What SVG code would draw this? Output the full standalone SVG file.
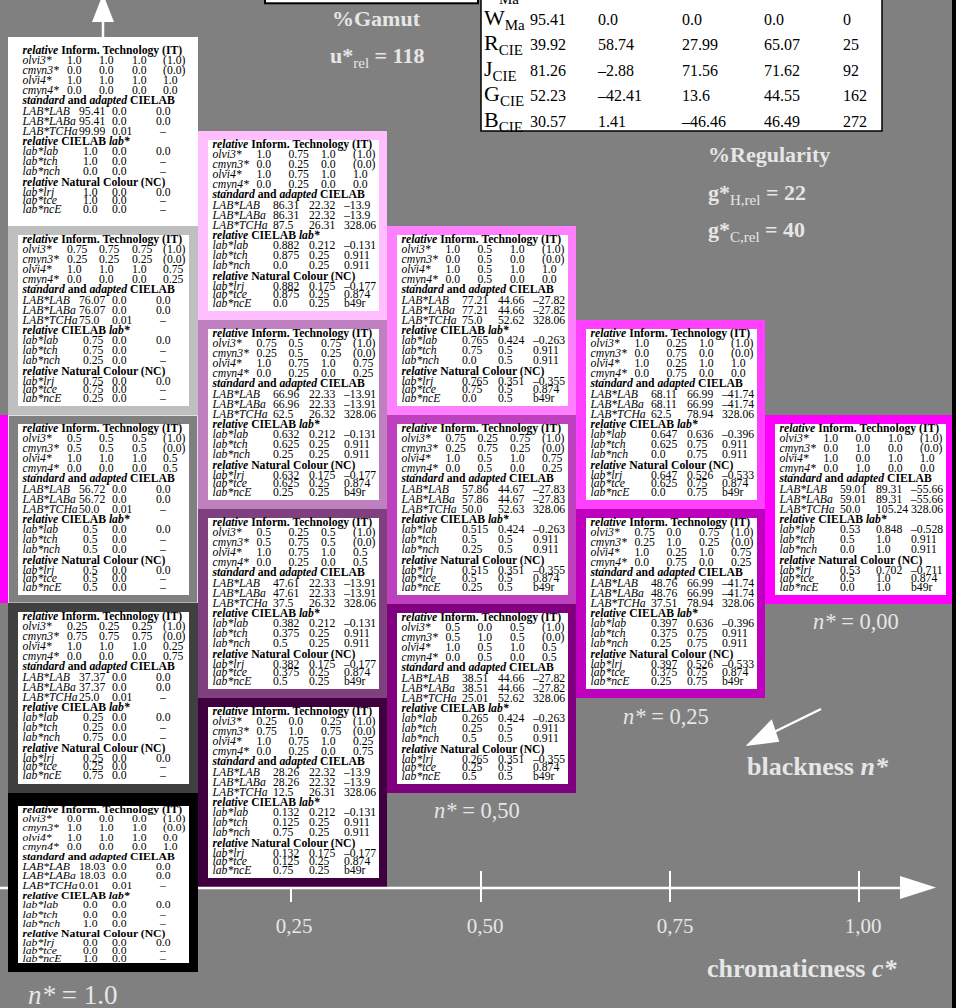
<svg xmlns="http://www.w3.org/2000/svg" width="956" height="1008" viewBox="0 0 956 1008">
<style>
text{font-family:"Liberation Serif","Times New Roman",serif}
.bx text{font-size:11.7px;fill:#000}
.b{font-weight:bold}
.i{font-style:italic}
.n{font-weight:normal}
.in{fill:#fff}
.lbl{fill:#e6e6e6}
.ax{stroke:#fff;stroke-width:2.5;fill:none}
.tk{stroke:#fff;stroke-width:2;fill:none}
.tb{font-size:16px;fill:#000}
</style>
<rect width="956" height="1008" fill="#808080"/>
<rect x="952" y="0" width="4" height="1008" fill="#000"/>
<rect x="0" y="415" width="8" height="188" fill="#ff00ff"/>

<g id="legend-top">
<rect x="265" y="-10" width="213" height="13.3" fill="#fff" stroke="#000" stroke-width="2"/>
<rect x="481" y="-10" width="401" height="141" fill="#fff" stroke="#000" stroke-width="1.5"/>
<text x="499" y="3.5" font-size="15">Ma</text>
<text x="484" y="24.5" font-size="22">W<tspan font-size="15" dy="5">Ma</tspan></text>
<text x="484" y="50" font-size="22">R<tspan font-size="15" dy="5">CIE</tspan></text>
<text x="484" y="75.5" font-size="22">J<tspan font-size="15" dy="5">CIE</tspan></text>
<text x="484" y="101" font-size="22">G<tspan font-size="15" dy="5">CIE</tspan></text>
<text x="484" y="126.5" font-size="22">B<tspan font-size="15" dy="5">CIE</tspan></text>
<text class="tb" y="24.5"><tspan x="530">95.41</tspan><tspan x="598">0.0</tspan><tspan x="682">0.0</tspan><tspan x="764">0.0</tspan><tspan x="843">0</tspan></text>
<text class="tb" y="50"><tspan x="530">39.92</tspan><tspan x="598">58.74</tspan><tspan x="682">27.99</tspan><tspan x="764">65.07</tspan><tspan x="843">25</tspan></text>
<text class="tb" y="75.5"><tspan x="530">81.26</tspan><tspan x="598">–2.88</tspan><tspan x="682">71.56</tspan><tspan x="764">71.62</tspan><tspan x="843">92</tspan></text>
<text class="tb" y="101"><tspan x="530">52.23</tspan><tspan x="598">–42.41</tspan><tspan x="682">13.6</tspan><tspan x="764">44.55</tspan><tspan x="843">162</tspan></text>
<text class="tb" y="126.5"><tspan x="530">30.57</tspan><tspan x="598">1.41</tspan><tspan x="682">–46.46</tspan><tspan x="764">46.49</tspan><tspan x="843">272</tspan></text>
</g>

<g id="gamut">
<text class="lbl b" x="332" y="26" font-size="22">%Gamut</text>
<text class="lbl b" x="330" y="63" font-size="22">u*<tspan class="n" font-size="15" dy="5">rel</tspan><tspan dy="-5"> = 118</tspan></text>
</g>
<g id="regularity">
<text class="lbl b" x="708" y="162" font-size="22">%Regularity</text>
<text class="lbl b" x="708" y="200" font-size="22">g*<tspan class="n" font-size="15" dy="5">H,rel</tspan><tspan dy="-5"> = 22</tspan></text>
<text class="lbl b" x="708" y="237" font-size="22">g*<tspan class="n" font-size="15" dy="5">C,rel</tspan><tspan dy="-5"> = 40</tspan></text>
</g>

<!-- column c*=0 -->
<g id="c0-n0" class="bx" transform="translate(8,37)">
<rect width="190" height="189" fill="#ffffff"/>
<rect class="in" x="10" y="9" width="171" height="171"/>
<text class="b" x="14.5" y="16.6"><tspan class="i">relative</tspan> Inform. Technology (IT)</text>
<text y="26.5"><tspan class="i" x="14.5">olvi3*</tspan><tspan x="59">1.0</tspan><tspan x="91">1.0</tspan><tspan x="124">1.0</tspan><tspan x="155">(1.0)</tspan></text>
<text y="36.5"><tspan class="i" x="14.5">cmyn3*</tspan><tspan x="59">0.0</tspan><tspan x="91">0.0</tspan><tspan x="124">0.0</tspan><tspan x="155">(0.0)</tspan></text>
<text y="46.5"><tspan class="i" x="14.5">olvi4*</tspan><tspan x="59">1.0</tspan><tspan x="91">1.0</tspan><tspan x="124">1.0</tspan><tspan x="155">1.0</tspan></text>
<text y="56.5"><tspan class="i" x="14.5">cmyn4*</tspan><tspan x="59">0.0</tspan><tspan x="91">0.0</tspan><tspan x="124">0.0</tspan><tspan x="155">0.0</tspan></text>
<text class="b" x="14.5" y="67"><tspan class="i">standard</tspan> and <tspan class="i">adapted</tspan> CIELAB</text>
<text y="77.5"><tspan class="i" x="14.5">LAB*LAB</tspan><tspan x="71">95.41</tspan><tspan x="104">0.0</tspan><tspan x="148">0.0</tspan></text>
<text y="87.5"><tspan class="i" x="14.5">LAB*LABa</tspan><tspan x="71">95.41</tspan><tspan x="104">0.0</tspan><tspan x="148">0.0</tspan></text>
<text y="97.5"><tspan class="i" x="14.5">LAB*TCHa</tspan><tspan x="71">99.99</tspan><tspan x="104">0.01</tspan><tspan x="152">–</tspan></text>
<text class="b" x="14.5" y="108"><tspan class="i">relative</tspan> CIELAB <tspan class="i">lab*</tspan></text>
<text y="118.3"><tspan class="i" x="14.5">lab*lab</tspan><tspan x="75">1.0</tspan><tspan x="104">0.0</tspan><tspan x="148">0.0</tspan></text>
<text y="128.3"><tspan class="i" x="14.5">lab*tch</tspan><tspan x="75">1.0</tspan><tspan x="104">0.0</tspan><tspan x="152">–</tspan></text>
<text y="138.3"><tspan class="i" x="14.5">lab*nch</tspan><tspan x="75">0.0</tspan><tspan x="104">0.0</tspan><tspan x="152">–</tspan></text>
<text class="b" x="14.5" y="148.7"><tspan class="i">relative</tspan> Natural Colour (NC)</text>
<text y="158.5"><tspan class="i" x="14.5">lab*lrj</tspan><tspan x="75">1.0</tspan><tspan x="104">0.0</tspan><tspan x="148">0.0</tspan></text>
<text y="167.3"><tspan class="i" x="14.5">lab*tce</tspan><tspan x="75">1.0</tspan><tspan x="104">0.0</tspan><tspan x="152">–</tspan></text>
<text y="175.7"><tspan class="i" x="14.5">lab*ncE</tspan><tspan x="75">0.0</tspan><tspan x="104">0.0</tspan><tspan x="152">–</tspan></text>
</g>

<g id="c0-n25" class="bx" transform="translate(8,226)">
<rect width="190" height="189" fill="#bfbfbf"/>
<rect class="in" x="10" y="9" width="171" height="171"/>
<text class="b" x="14.5" y="16.6"><tspan class="i">relative</tspan> Inform. Technology (IT)</text>
<text y="26.5"><tspan class="i" x="14.5">olvi3*</tspan><tspan x="59">0.75</tspan><tspan x="91">0.75</tspan><tspan x="124">0.75</tspan><tspan x="155">(1.0)</tspan></text>
<text y="36.5"><tspan class="i" x="14.5">cmyn3*</tspan><tspan x="59">0.25</tspan><tspan x="91">0.25</tspan><tspan x="124">0.25</tspan><tspan x="155">(0.0)</tspan></text>
<text y="46.5"><tspan class="i" x="14.5">olvi4*</tspan><tspan x="59">1.0</tspan><tspan x="91">1.0</tspan><tspan x="124">1.0</tspan><tspan x="155">0.75</tspan></text>
<text y="56.5"><tspan class="i" x="14.5">cmyn4*</tspan><tspan x="59">0.0</tspan><tspan x="91">0.0</tspan><tspan x="124">0.0</tspan><tspan x="155">0.25</tspan></text>
<text class="b" x="14.5" y="67"><tspan class="i">standard</tspan> and <tspan class="i">adapted</tspan> CIELAB</text>
<text y="77.5"><tspan class="i" x="14.5">LAB*LAB</tspan><tspan x="71">76.07</tspan><tspan x="104">0.0</tspan><tspan x="148">0.0</tspan></text>
<text y="87.5"><tspan class="i" x="14.5">LAB*LABa</tspan><tspan x="71">76.07</tspan><tspan x="104">0.0</tspan><tspan x="148">0.0</tspan></text>
<text y="97.5"><tspan class="i" x="14.5">LAB*TCHa</tspan><tspan x="71">75.0</tspan><tspan x="104">0.01</tspan><tspan x="152">–</tspan></text>
<text class="b" x="14.5" y="108"><tspan class="i">relative</tspan> CIELAB <tspan class="i">lab*</tspan></text>
<text y="118.3"><tspan class="i" x="14.5">lab*lab</tspan><tspan x="75">0.75</tspan><tspan x="104">0.0</tspan><tspan x="148">0.0</tspan></text>
<text y="128.3"><tspan class="i" x="14.5">lab*tch</tspan><tspan x="75">0.75</tspan><tspan x="104">0.0</tspan><tspan x="152">–</tspan></text>
<text y="138.3"><tspan class="i" x="14.5">lab*nch</tspan><tspan x="75">0.25</tspan><tspan x="104">0.0</tspan><tspan x="152">–</tspan></text>
<text class="b" x="14.5" y="148.7"><tspan class="i">relative</tspan> Natural Colour (NC)</text>
<text y="158.5"><tspan class="i" x="14.5">lab*lrj</tspan><tspan x="75">0.75</tspan><tspan x="104">0.0</tspan><tspan x="148">0.0</tspan></text>
<text y="167.3"><tspan class="i" x="14.5">lab*tce</tspan><tspan x="75">0.75</tspan><tspan x="104">0.0</tspan><tspan x="152">–</tspan></text>
<text y="175.7"><tspan class="i" x="14.5">lab*ncE</tspan><tspan x="75">0.25</tspan><tspan x="104">0.0</tspan><tspan x="152">–</tspan></text>
</g>

<g id="c0-n50" class="bx" transform="translate(8,415)">
<rect x="0.5" y="0.5" width="189" height="187.5" fill="#808080" stroke="#e0e0e0" stroke-width="1"/>
<rect class="in" x="10" y="9" width="171" height="171"/>
<text class="b" x="14.5" y="16.6"><tspan class="i">relative</tspan> Inform. Technology (IT)</text>
<text y="26.5"><tspan class="i" x="14.5">olvi3*</tspan><tspan x="59">0.5</tspan><tspan x="91">0.5</tspan><tspan x="124">0.5</tspan><tspan x="155">(1.0)</tspan></text>
<text y="36.5"><tspan class="i" x="14.5">cmyn3*</tspan><tspan x="59">0.5</tspan><tspan x="91">0.5</tspan><tspan x="124">0.5</tspan><tspan x="155">(0.0)</tspan></text>
<text y="46.5"><tspan class="i" x="14.5">olvi4*</tspan><tspan x="59">1.0</tspan><tspan x="91">1.0</tspan><tspan x="124">1.0</tspan><tspan x="155">0.5</tspan></text>
<text y="56.5"><tspan class="i" x="14.5">cmyn4*</tspan><tspan x="59">0.0</tspan><tspan x="91">0.0</tspan><tspan x="124">0.0</tspan><tspan x="155">0.5</tspan></text>
<text class="b" x="14.5" y="67"><tspan class="i">standard</tspan> and <tspan class="i">adapted</tspan> CIELAB</text>
<text y="77.5"><tspan class="i" x="14.5">LAB*LAB</tspan><tspan x="71">56.72</tspan><tspan x="104">0.0</tspan><tspan x="148">0.0</tspan></text>
<text y="87.5"><tspan class="i" x="14.5">LAB*LABa</tspan><tspan x="71">56.72</tspan><tspan x="104">0.0</tspan><tspan x="148">0.0</tspan></text>
<text y="97.5"><tspan class="i" x="14.5">LAB*TCHa</tspan><tspan x="71">50.0</tspan><tspan x="104">0.01</tspan><tspan x="152">–</tspan></text>
<text class="b" x="14.5" y="108"><tspan class="i">relative</tspan> CIELAB <tspan class="i">lab*</tspan></text>
<text y="118.3"><tspan class="i" x="14.5">lab*lab</tspan><tspan x="75">0.5</tspan><tspan x="104">0.0</tspan><tspan x="148">0.0</tspan></text>
<text y="128.3"><tspan class="i" x="14.5">lab*tch</tspan><tspan x="75">0.5</tspan><tspan x="104">0.0</tspan><tspan x="152">–</tspan></text>
<text y="138.3"><tspan class="i" x="14.5">lab*nch</tspan><tspan x="75">0.5</tspan><tspan x="104">0.0</tspan><tspan x="152">–</tspan></text>
<text class="b" x="14.5" y="148.7"><tspan class="i">relative</tspan> Natural Colour (NC)</text>
<text y="158.5"><tspan class="i" x="14.5">lab*lrj</tspan><tspan x="75">0.5</tspan><tspan x="104">0.0</tspan><tspan x="148">0.0</tspan></text>
<text y="167.3"><tspan class="i" x="14.5">lab*tce</tspan><tspan x="75">0.5</tspan><tspan x="104">0.0</tspan><tspan x="152">–</tspan></text>
<text y="175.7"><tspan class="i" x="14.5">lab*ncE</tspan><tspan x="75">0.5</tspan><tspan x="104">0.0</tspan><tspan x="152">–</tspan></text>
</g>

<g id="c0-n75" class="bx" transform="translate(8,603)">
<rect width="190" height="190" fill="#404040"/>
<rect class="in" x="10" y="9" width="171" height="172"/>
<text class="b" x="14.5" y="16.6"><tspan class="i">relative</tspan> Inform. Technology (IT)</text>
<text y="26.5"><tspan class="i" x="14.5">olvi3*</tspan><tspan x="59">0.25</tspan><tspan x="91">0.25</tspan><tspan x="124">0.25</tspan><tspan x="155">(1.0)</tspan></text>
<text y="36.5"><tspan class="i" x="14.5">cmyn3*</tspan><tspan x="59">0.75</tspan><tspan x="91">0.75</tspan><tspan x="124">0.75</tspan><tspan x="155">(0.0)</tspan></text>
<text y="46.5"><tspan class="i" x="14.5">olvi4*</tspan><tspan x="59">1.0</tspan><tspan x="91">1.0</tspan><tspan x="124">1.0</tspan><tspan x="155">0.25</tspan></text>
<text y="56.5"><tspan class="i" x="14.5">cmyn4*</tspan><tspan x="59">0.0</tspan><tspan x="91">0.0</tspan><tspan x="124">0.0</tspan><tspan x="155">0.75</tspan></text>
<text class="b" x="14.5" y="67"><tspan class="i">standard</tspan> and <tspan class="i">adapted</tspan> CIELAB</text>
<text y="77.5"><tspan class="i" x="14.5">LAB*LAB</tspan><tspan x="71">37.37</tspan><tspan x="104">0.0</tspan><tspan x="148">0.0</tspan></text>
<text y="87.5"><tspan class="i" x="14.5">LAB*LABa</tspan><tspan x="71">37.37</tspan><tspan x="104">0.0</tspan><tspan x="148">0.0</tspan></text>
<text y="97.5"><tspan class="i" x="14.5">LAB*TCHa</tspan><tspan x="71">25.0</tspan><tspan x="104">0.01</tspan><tspan x="152">–</tspan></text>
<text class="b" x="14.5" y="108"><tspan class="i">relative</tspan> CIELAB <tspan class="i">lab*</tspan></text>
<text y="118.3"><tspan class="i" x="14.5">lab*lab</tspan><tspan x="75">0.25</tspan><tspan x="104">0.0</tspan><tspan x="148">0.0</tspan></text>
<text y="128.3"><tspan class="i" x="14.5">lab*tch</tspan><tspan x="75">0.25</tspan><tspan x="104">0.0</tspan><tspan x="152">–</tspan></text>
<text y="138.3"><tspan class="i" x="14.5">lab*nch</tspan><tspan x="75">0.75</tspan><tspan x="104">0.0</tspan><tspan x="152">–</tspan></text>
<text class="b" x="14.5" y="148.7"><tspan class="i">relative</tspan> Natural Colour (NC)</text>
<text y="158.5"><tspan class="i" x="14.5">lab*lrj</tspan><tspan x="75">0.25</tspan><tspan x="104">0.0</tspan><tspan x="148">0.0</tspan></text>
<text y="167.3"><tspan class="i" x="14.5">lab*tce</tspan><tspan x="75">0.25</tspan><tspan x="104">0.0</tspan><tspan x="152">–</tspan></text>
<text y="175.7"><tspan class="i" x="14.5">lab*ncE</tspan><tspan x="75">0.75</tspan><tspan x="104">0.0</tspan><tspan x="152">–</tspan></text>
</g>

<g id="c0-n100" class="bx" transform="translate(8,793)">
<rect width="190" height="179" fill="#000000"/>
<rect class="in" x="10" y="13" width="171" height="157"/>
<g transform="translate(0,4) scale(1,0.94)">
<text class="b" x="14.5" y="16.6"><tspan class="i">relative</tspan> Inform. Technology (IT)</text>
<text y="26.5"><tspan class="i" x="14.5">olvi3*</tspan><tspan x="59">0.0</tspan><tspan x="91">0.0</tspan><tspan x="124">0.0</tspan><tspan x="155">(1.0)</tspan></text>
<text y="36.5"><tspan class="i" x="14.5">cmyn3*</tspan><tspan x="59">1.0</tspan><tspan x="91">1.0</tspan><tspan x="124">1.0</tspan><tspan x="155">(0.0)</tspan></text>
<text y="46.5"><tspan class="i" x="14.5">olvi4*</tspan><tspan x="59">1.0</tspan><tspan x="91">1.0</tspan><tspan x="124">1.0</tspan><tspan x="155">0.0</tspan></text>
<text y="56.5"><tspan class="i" x="14.5">cmyn4*</tspan><tspan x="59">0.0</tspan><tspan x="91">0.0</tspan><tspan x="124">0.0</tspan><tspan x="155">1.0</tspan></text>
<text class="b" x="14.5" y="67"><tspan class="i">standard</tspan> and <tspan class="i">adapted</tspan> CIELAB</text>
<text y="77.5"><tspan class="i" x="14.5">LAB*LAB</tspan><tspan x="71">18.03</tspan><tspan x="104">0.0</tspan><tspan x="148">0.0</tspan></text>
<text y="87.5"><tspan class="i" x="14.5">LAB*LABa</tspan><tspan x="71">18.03</tspan><tspan x="104">0.0</tspan><tspan x="148">0.0</tspan></text>
<text y="97.5"><tspan class="i" x="14.5">LAB*TCHa</tspan><tspan x="71">0.01</tspan><tspan x="104">0.01</tspan><tspan x="152">–</tspan></text>
<text class="b" x="14.5" y="108"><tspan class="i">relative</tspan> CIELAB <tspan class="i">lab*</tspan></text>
<text y="118.3"><tspan class="i" x="14.5">lab*lab</tspan><tspan x="75">0.0</tspan><tspan x="104">0.0</tspan><tspan x="148">0.0</tspan></text>
<text y="128.3"><tspan class="i" x="14.5">lab*tch</tspan><tspan x="75">0.0</tspan><tspan x="104">0.0</tspan><tspan x="152">–</tspan></text>
<text y="138.3"><tspan class="i" x="14.5">lab*nch</tspan><tspan x="75">1.0</tspan><tspan x="104">0.0</tspan><tspan x="152">–</tspan></text>
<text class="b" x="14.5" y="148.7"><tspan class="i">relative</tspan> Natural Colour (NC)</text>
<text y="158.5"><tspan class="i" x="14.5">lab*lrj</tspan><tspan x="75">0.0</tspan><tspan x="104">0.0</tspan><tspan x="148">0.0</tspan></text>
<text y="167.3"><tspan class="i" x="14.5">lab*tce</tspan><tspan x="75">0.0</tspan><tspan x="104">0.0</tspan><tspan x="152">–</tspan></text>
<text y="175.7"><tspan class="i" x="14.5">lab*ncE</tspan><tspan x="75">1.0</tspan><tspan x="104">0.0</tspan><tspan x="152">–</tspan></text>
</g>
</g>

<!-- column c*=0.25 -->
<g id="c25-n0" class="bx" transform="translate(198,131)">
<rect width="189" height="189" fill="#ffbfff"/>
<rect class="in" x="10" y="9" width="171" height="171"/>
<text class="b" x="14.5" y="16.6"><tspan class="i">relative</tspan> Inform. Technology (IT)</text>
<text y="26.5"><tspan class="i" x="14.5">olvi3*</tspan><tspan x="58.5">1.0</tspan><tspan x="90.5">0.75</tspan><tspan x="123">1.0</tspan><tspan x="155">(1.0)</tspan></text>
<text y="36.5"><tspan class="i" x="14.5">cmyn3*</tspan><tspan x="58.5">0.0</tspan><tspan x="90.5">0.25</tspan><tspan x="123">0.0</tspan><tspan x="155">(0.0)</tspan></text>
<text y="46.5"><tspan class="i" x="14.5">olvi4*</tspan><tspan x="58.5">1.0</tspan><tspan x="90.5">0.75</tspan><tspan x="123">1.0</tspan><tspan x="155">1.0</tspan></text>
<text y="56.5"><tspan class="i" x="14.5">cmyn4*</tspan><tspan x="58.5">0.0</tspan><tspan x="90.5">0.25</tspan><tspan x="123">0.0</tspan><tspan x="155">0.0</tspan></text>
<text class="b" x="14.5" y="67"><tspan class="i">standard</tspan> and <tspan class="i">adapted</tspan> CIELAB</text>
<text y="77.5"><tspan class="i" x="14.5">LAB*LAB</tspan><tspan x="75">86.31</tspan><tspan x="111">22.32</tspan><tspan x="146">–13.9</tspan></text>
<text y="87.5"><tspan class="i" x="14.5">LAB*LABa</tspan><tspan x="75">86.31</tspan><tspan x="111">22.32</tspan><tspan x="146">–13.9</tspan></text>
<text y="97.5"><tspan class="i" x="14.5">LAB*TCHa</tspan><tspan x="75">87.5</tspan><tspan x="111">26.31</tspan><tspan x="146">328.06</tspan></text>
<text class="b" x="14.5" y="108"><tspan class="i">relative</tspan> CIELAB <tspan class="i">lab*</tspan></text>
<text y="118.3"><tspan class="i" x="14.5">lab*lab</tspan><tspan x="75">0.882</tspan><tspan x="111">0.212</tspan><tspan x="146">–0.131</tspan></text>
<text y="128.3"><tspan class="i" x="14.5">lab*tch</tspan><tspan x="75">0.875</tspan><tspan x="111">0.25</tspan><tspan x="146">0.911</tspan></text>
<text y="138.3"><tspan class="i" x="14.5">lab*nch</tspan><tspan x="75">0.0</tspan><tspan x="111">0.25</tspan><tspan x="146">0.911</tspan></text>
<text class="b" x="14.5" y="148.7"><tspan class="i">relative</tspan> Natural Colour (NC)</text>
<text y="158.5"><tspan class="i" x="14.5">lab*lrj</tspan><tspan x="75">0.882</tspan><tspan x="111">0.175</tspan><tspan x="146">–0.177</tspan></text>
<text y="167.3"><tspan class="i" x="14.5">lab*tce</tspan><tspan x="75">0.875</tspan><tspan x="111">0.25</tspan><tspan x="146">0.874</tspan></text>
<text y="175.7"><tspan class="i" x="14.5">lab*ncE</tspan><tspan x="75">0.0</tspan><tspan x="111">0.25</tspan><tspan x="146">b49r</tspan></text>
</g>

<g id="c25-n25" class="bx" transform="translate(198,320)">
<rect width="189" height="189" fill="#bf80bf"/>
<rect class="in" x="10" y="9" width="171" height="171"/>
<text class="b" x="14.5" y="16.6"><tspan class="i">relative</tspan> Inform. Technology (IT)</text>
<text y="26.5"><tspan class="i" x="14.5">olvi3*</tspan><tspan x="58.5">0.75</tspan><tspan x="90.5">0.5</tspan><tspan x="123">0.75</tspan><tspan x="155">(1.0)</tspan></text>
<text y="36.5"><tspan class="i" x="14.5">cmyn3*</tspan><tspan x="58.5">0.25</tspan><tspan x="90.5">0.5</tspan><tspan x="123">0.25</tspan><tspan x="155">(0.0)</tspan></text>
<text y="46.5"><tspan class="i" x="14.5">olvi4*</tspan><tspan x="58.5">1.0</tspan><tspan x="90.5">0.75</tspan><tspan x="123">1.0</tspan><tspan x="155">0.75</tspan></text>
<text y="56.5"><tspan class="i" x="14.5">cmyn4*</tspan><tspan x="58.5">0.0</tspan><tspan x="90.5">0.25</tspan><tspan x="123">0.0</tspan><tspan x="155">0.25</tspan></text>
<text class="b" x="14.5" y="67"><tspan class="i">standard</tspan> and <tspan class="i">adapted</tspan> CIELAB</text>
<text y="77.5"><tspan class="i" x="14.5">LAB*LAB</tspan><tspan x="75">66.96</tspan><tspan x="111">22.33</tspan><tspan x="146">–13.91</tspan></text>
<text y="87.5"><tspan class="i" x="14.5">LAB*LABa</tspan><tspan x="75">66.96</tspan><tspan x="111">22.33</tspan><tspan x="146">–13.91</tspan></text>
<text y="97.5"><tspan class="i" x="14.5">LAB*TCHa</tspan><tspan x="75">62.5</tspan><tspan x="111">26.32</tspan><tspan x="146">328.06</tspan></text>
<text class="b" x="14.5" y="108"><tspan class="i">relative</tspan> CIELAB <tspan class="i">lab*</tspan></text>
<text y="118.3"><tspan class="i" x="14.5">lab*lab</tspan><tspan x="75">0.632</tspan><tspan x="111">0.212</tspan><tspan x="146">–0.131</tspan></text>
<text y="128.3"><tspan class="i" x="14.5">lab*tch</tspan><tspan x="75">0.625</tspan><tspan x="111">0.25</tspan><tspan x="146">0.911</tspan></text>
<text y="138.3"><tspan class="i" x="14.5">lab*nch</tspan><tspan x="75">0.25</tspan><tspan x="111">0.25</tspan><tspan x="146">0.911</tspan></text>
<text class="b" x="14.5" y="148.7"><tspan class="i">relative</tspan> Natural Colour (NC)</text>
<text y="158.5"><tspan class="i" x="14.5">lab*lrj</tspan><tspan x="75">0.632</tspan><tspan x="111">0.175</tspan><tspan x="146">–0.177</tspan></text>
<text y="167.3"><tspan class="i" x="14.5">lab*tce</tspan><tspan x="75">0.625</tspan><tspan x="111">0.25</tspan><tspan x="146">0.874</tspan></text>
<text y="175.7"><tspan class="i" x="14.5">lab*ncE</tspan><tspan x="75">0.25</tspan><tspan x="111">0.25</tspan><tspan x="146">b49r</tspan></text>
</g>

<g id="c25-n50" class="bx" transform="translate(198,509)">
<rect width="189" height="189" fill="#804080"/>
<rect class="in" x="10" y="9" width="171" height="171"/>
<text class="b" x="14.5" y="16.6"><tspan class="i">relative</tspan> Inform. Technology (IT)</text>
<text y="26.5"><tspan class="i" x="14.5">olvi3*</tspan><tspan x="58.5">0.5</tspan><tspan x="90.5">0.25</tspan><tspan x="123">0.5</tspan><tspan x="155">(1.0)</tspan></text>
<text y="36.5"><tspan class="i" x="14.5">cmyn3*</tspan><tspan x="58.5">0.5</tspan><tspan x="90.5">0.75</tspan><tspan x="123">0.5</tspan><tspan x="155">(0.0)</tspan></text>
<text y="46.5"><tspan class="i" x="14.5">olvi4*</tspan><tspan x="58.5">1.0</tspan><tspan x="90.5">0.75</tspan><tspan x="123">1.0</tspan><tspan x="155">0.5</tspan></text>
<text y="56.5"><tspan class="i" x="14.5">cmyn4*</tspan><tspan x="58.5">0.0</tspan><tspan x="90.5">0.25</tspan><tspan x="123">0.0</tspan><tspan x="155">0.5</tspan></text>
<text class="b" x="14.5" y="67"><tspan class="i">standard</tspan> and <tspan class="i">adapted</tspan> CIELAB</text>
<text y="77.5"><tspan class="i" x="14.5">LAB*LAB</tspan><tspan x="75">47.61</tspan><tspan x="111">22.33</tspan><tspan x="146">–13.91</tspan></text>
<text y="87.5"><tspan class="i" x="14.5">LAB*LABa</tspan><tspan x="75">47.61</tspan><tspan x="111">22.33</tspan><tspan x="146">–13.91</tspan></text>
<text y="97.5"><tspan class="i" x="14.5">LAB*TCHa</tspan><tspan x="75">37.5</tspan><tspan x="111">26.32</tspan><tspan x="146">328.06</tspan></text>
<text class="b" x="14.5" y="108"><tspan class="i">relative</tspan> CIELAB <tspan class="i">lab*</tspan></text>
<text y="118.3"><tspan class="i" x="14.5">lab*lab</tspan><tspan x="75">0.382</tspan><tspan x="111">0.212</tspan><tspan x="146">–0.131</tspan></text>
<text y="128.3"><tspan class="i" x="14.5">lab*tch</tspan><tspan x="75">0.375</tspan><tspan x="111">0.25</tspan><tspan x="146">0.911</tspan></text>
<text y="138.3"><tspan class="i" x="14.5">lab*nch</tspan><tspan x="75">0.5</tspan><tspan x="111">0.25</tspan><tspan x="146">0.911</tspan></text>
<text class="b" x="14.5" y="148.7"><tspan class="i">relative</tspan> Natural Colour (NC)</text>
<text y="158.5"><tspan class="i" x="14.5">lab*lrj</tspan><tspan x="75">0.382</tspan><tspan x="111">0.175</tspan><tspan x="146">–0.177</tspan></text>
<text y="167.3"><tspan class="i" x="14.5">lab*tce</tspan><tspan x="75">0.375</tspan><tspan x="111">0.25</tspan><tspan x="146">0.874</tspan></text>
<text y="175.7"><tspan class="i" x="14.5">lab*ncE</tspan><tspan x="75">0.5</tspan><tspan x="111">0.25</tspan><tspan x="146">b49r</tspan></text>
</g>

<g id="c25-n75" class="bx" transform="translate(198,698)">
<rect width="189" height="189" fill="#400040"/>
<rect class="in" x="10" y="9" width="171" height="171"/>
<text class="b" x="14.5" y="16.6"><tspan class="i">relative</tspan> Inform. Technology (IT)</text>
<text y="26.5"><tspan class="i" x="14.5">olvi3*</tspan><tspan x="58.5">0.25</tspan><tspan x="90.5">0.0</tspan><tspan x="123">0.25</tspan><tspan x="155">(1.0)</tspan></text>
<text y="36.5"><tspan class="i" x="14.5">cmyn3*</tspan><tspan x="58.5">0.75</tspan><tspan x="90.5">1.0</tspan><tspan x="123">0.75</tspan><tspan x="155">(0.0)</tspan></text>
<text y="46.5"><tspan class="i" x="14.5">olvi4*</tspan><tspan x="58.5">1.0</tspan><tspan x="90.5">0.75</tspan><tspan x="123">1.0</tspan><tspan x="155">0.25</tspan></text>
<text y="56.5"><tspan class="i" x="14.5">cmyn4*</tspan><tspan x="58.5">0.0</tspan><tspan x="90.5">0.25</tspan><tspan x="123">0.0</tspan><tspan x="155">0.75</tspan></text>
<text class="b" x="14.5" y="67"><tspan class="i">standard</tspan> and <tspan class="i">adapted</tspan> CIELAB</text>
<text y="77.5"><tspan class="i" x="14.5">LAB*LAB</tspan><tspan x="75">28.26</tspan><tspan x="111">22.32</tspan><tspan x="146">–13.9</tspan></text>
<text y="87.5"><tspan class="i" x="14.5">LAB*LABa</tspan><tspan x="75">28.26</tspan><tspan x="111">22.32</tspan><tspan x="146">–13.9</tspan></text>
<text y="97.5"><tspan class="i" x="14.5">LAB*TCHa</tspan><tspan x="75">12.5</tspan><tspan x="111">26.31</tspan><tspan x="146">328.06</tspan></text>
<text class="b" x="14.5" y="108"><tspan class="i">relative</tspan> CIELAB <tspan class="i">lab*</tspan></text>
<text y="118.3"><tspan class="i" x="14.5">lab*lab</tspan><tspan x="75">0.132</tspan><tspan x="111">0.212</tspan><tspan x="146">–0.131</tspan></text>
<text y="128.3"><tspan class="i" x="14.5">lab*tch</tspan><tspan x="75">0.125</tspan><tspan x="111">0.25</tspan><tspan x="146">0.911</tspan></text>
<text y="138.3"><tspan class="i" x="14.5">lab*nch</tspan><tspan x="75">0.75</tspan><tspan x="111">0.25</tspan><tspan x="146">0.911</tspan></text>
<text class="b" x="14.5" y="148.7"><tspan class="i">relative</tspan> Natural Colour (NC)</text>
<text y="158.5"><tspan class="i" x="14.5">lab*lrj</tspan><tspan x="75">0.132</tspan><tspan x="111">0.175</tspan><tspan x="146">–0.177</tspan></text>
<text y="167.3"><tspan class="i" x="14.5">lab*tce</tspan><tspan x="75">0.125</tspan><tspan x="111">0.25</tspan><tspan x="146">0.874</tspan></text>
<text y="175.7"><tspan class="i" x="14.5">lab*ncE</tspan><tspan x="75">0.75</tspan><tspan x="111">0.25</tspan><tspan x="146">b49r</tspan></text>
</g>

<!-- column c*=0.5 -->
<g id="c50-n0" class="bx" transform="translate(387,226)">
<rect width="189" height="189" fill="#ff80ff"/>
<rect class="in" x="10" y="9" width="171" height="171"/>
<text class="b" x="14.5" y="16.6"><tspan class="i">relative</tspan> Inform. Technology (IT)</text>
<text y="26.5"><tspan class="i" x="14.5">olvi3*</tspan><tspan x="58.5">1.0</tspan><tspan x="90.5">0.5</tspan><tspan x="123">1.0</tspan><tspan x="155">(1.0)</tspan></text>
<text y="36.5"><tspan class="i" x="14.5">cmyn3*</tspan><tspan x="58.5">0.0</tspan><tspan x="90.5">0.5</tspan><tspan x="123">0.0</tspan><tspan x="155">(0.0)</tspan></text>
<text y="46.5"><tspan class="i" x="14.5">olvi4*</tspan><tspan x="58.5">1.0</tspan><tspan x="90.5">0.5</tspan><tspan x="123">1.0</tspan><tspan x="155">1.0</tspan></text>
<text y="56.5"><tspan class="i" x="14.5">cmyn4*</tspan><tspan x="58.5">0.0</tspan><tspan x="90.5">0.5</tspan><tspan x="123">0.0</tspan><tspan x="155">0.0</tspan></text>
<text class="b" x="14.5" y="67"><tspan class="i">standard</tspan> and <tspan class="i">adapted</tspan> CIELAB</text>
<text y="77.5"><tspan class="i" x="14.5">LAB*LAB</tspan><tspan x="75">77.21</tspan><tspan x="111">44.66</tspan><tspan x="146">–27.82</tspan></text>
<text y="87.5"><tspan class="i" x="14.5">LAB*LABa</tspan><tspan x="75">77.21</tspan><tspan x="111">44.66</tspan><tspan x="146">–27.82</tspan></text>
<text y="97.5"><tspan class="i" x="14.5">LAB*TCHa</tspan><tspan x="75">75.0</tspan><tspan x="111">52.62</tspan><tspan x="146">328.06</tspan></text>
<text class="b" x="14.5" y="108"><tspan class="i">relative</tspan> CIELAB <tspan class="i">lab*</tspan></text>
<text y="118.3"><tspan class="i" x="14.5">lab*lab</tspan><tspan x="75">0.765</tspan><tspan x="111">0.424</tspan><tspan x="146">–0.263</tspan></text>
<text y="128.3"><tspan class="i" x="14.5">lab*tch</tspan><tspan x="75">0.75</tspan><tspan x="111">0.5</tspan><tspan x="146">0.911</tspan></text>
<text y="138.3"><tspan class="i" x="14.5">lab*nch</tspan><tspan x="75">0.0</tspan><tspan x="111">0.5</tspan><tspan x="146">0.911</tspan></text>
<text class="b" x="14.5" y="148.7"><tspan class="i">relative</tspan> Natural Colour (NC)</text>
<text y="158.5"><tspan class="i" x="14.5">lab*lrj</tspan><tspan x="75">0.765</tspan><tspan x="111">0.351</tspan><tspan x="146">–0.355</tspan></text>
<text y="167.3"><tspan class="i" x="14.5">lab*tce</tspan><tspan x="75">0.75</tspan><tspan x="111">0.5</tspan><tspan x="146">0.874</tspan></text>
<text y="175.7"><tspan class="i" x="14.5">lab*ncE</tspan><tspan x="75">0.0</tspan><tspan x="111">0.5</tspan><tspan x="146">b49r</tspan></text>
</g>

<g id="c50-n25" class="bx" transform="translate(387,415)">
<rect width="189" height="189" fill="#bf40bf"/>
<rect class="in" x="10" y="9" width="171" height="171"/>
<text class="b" x="14.5" y="16.6"><tspan class="i">relative</tspan> Inform. Technology (IT)</text>
<text y="26.5"><tspan class="i" x="14.5">olvi3*</tspan><tspan x="58.5">0.75</tspan><tspan x="90.5">0.25</tspan><tspan x="123">0.75</tspan><tspan x="155">(1.0)</tspan></text>
<text y="36.5"><tspan class="i" x="14.5">cmyn3*</tspan><tspan x="58.5">0.25</tspan><tspan x="90.5">0.75</tspan><tspan x="123">0.25</tspan><tspan x="155">(0.0)</tspan></text>
<text y="46.5"><tspan class="i" x="14.5">olvi4*</tspan><tspan x="58.5">1.0</tspan><tspan x="90.5">0.5</tspan><tspan x="123">1.0</tspan><tspan x="155">0.75</tspan></text>
<text y="56.5"><tspan class="i" x="14.5">cmyn4*</tspan><tspan x="58.5">0.0</tspan><tspan x="90.5">0.5</tspan><tspan x="123">0.0</tspan><tspan x="155">0.25</tspan></text>
<text class="b" x="14.5" y="67"><tspan class="i">standard</tspan> and <tspan class="i">adapted</tspan> CIELAB</text>
<text y="77.5"><tspan class="i" x="14.5">LAB*LAB</tspan><tspan x="75">57.86</tspan><tspan x="111">44.67</tspan><tspan x="146">–27.83</tspan></text>
<text y="87.5"><tspan class="i" x="14.5">LAB*LABa</tspan><tspan x="75">57.86</tspan><tspan x="111">44.67</tspan><tspan x="146">–27.83</tspan></text>
<text y="97.5"><tspan class="i" x="14.5">LAB*TCHa</tspan><tspan x="75">50.0</tspan><tspan x="111">52.63</tspan><tspan x="146">328.06</tspan></text>
<text class="b" x="14.5" y="108"><tspan class="i">relative</tspan> CIELAB <tspan class="i">lab*</tspan></text>
<text y="118.3"><tspan class="i" x="14.5">lab*lab</tspan><tspan x="75">0.515</tspan><tspan x="111">0.424</tspan><tspan x="146">–0.263</tspan></text>
<text y="128.3"><tspan class="i" x="14.5">lab*tch</tspan><tspan x="75">0.5</tspan><tspan x="111">0.5</tspan><tspan x="146">0.911</tspan></text>
<text y="138.3"><tspan class="i" x="14.5">lab*nch</tspan><tspan x="75">0.25</tspan><tspan x="111">0.5</tspan><tspan x="146">0.911</tspan></text>
<text class="b" x="14.5" y="148.7"><tspan class="i">relative</tspan> Natural Colour (NC)</text>
<text y="158.5"><tspan class="i" x="14.5">lab*lrj</tspan><tspan x="75">0.515</tspan><tspan x="111">0.351</tspan><tspan x="146">–0.355</tspan></text>
<text y="167.3"><tspan class="i" x="14.5">lab*tce</tspan><tspan x="75">0.5</tspan><tspan x="111">0.5</tspan><tspan x="146">0.874</tspan></text>
<text y="175.7"><tspan class="i" x="14.5">lab*ncE</tspan><tspan x="75">0.25</tspan><tspan x="111">0.5</tspan><tspan x="146">b49r</tspan></text>
</g>

<g id="c50-n50" class="bx" transform="translate(387,604)">
<rect width="189" height="189" fill="#800080"/>
<rect class="in" x="10" y="9" width="171" height="171"/>
<text class="b" x="14.5" y="16.6"><tspan class="i">relative</tspan> Inform. Technology (IT)</text>
<text y="26.5"><tspan class="i" x="14.5">olvi3*</tspan><tspan x="58.5">0.5</tspan><tspan x="90.5">0.0</tspan><tspan x="123">0.5</tspan><tspan x="155">(1.0)</tspan></text>
<text y="36.5"><tspan class="i" x="14.5">cmyn3*</tspan><tspan x="58.5">0.5</tspan><tspan x="90.5">1.0</tspan><tspan x="123">0.5</tspan><tspan x="155">(0.0)</tspan></text>
<text y="46.5"><tspan class="i" x="14.5">olvi4*</tspan><tspan x="58.5">1.0</tspan><tspan x="90.5">0.5</tspan><tspan x="123">1.0</tspan><tspan x="155">0.5</tspan></text>
<text y="56.5"><tspan class="i" x="14.5">cmyn4*</tspan><tspan x="58.5">0.0</tspan><tspan x="90.5">0.5</tspan><tspan x="123">0.0</tspan><tspan x="155">0.5</tspan></text>
<text class="b" x="14.5" y="67"><tspan class="i">standard</tspan> and <tspan class="i">adapted</tspan> CIELAB</text>
<text y="77.5"><tspan class="i" x="14.5">LAB*LAB</tspan><tspan x="75">38.51</tspan><tspan x="111">44.66</tspan><tspan x="146">–27.82</tspan></text>
<text y="87.5"><tspan class="i" x="14.5">LAB*LABa</tspan><tspan x="75">38.51</tspan><tspan x="111">44.66</tspan><tspan x="146">–27.82</tspan></text>
<text y="97.5"><tspan class="i" x="14.5">LAB*TCHa</tspan><tspan x="75">25.01</tspan><tspan x="111">52.62</tspan><tspan x="146">328.06</tspan></text>
<text class="b" x="14.5" y="108"><tspan class="i">relative</tspan> CIELAB <tspan class="i">lab*</tspan></text>
<text y="118.3"><tspan class="i" x="14.5">lab*lab</tspan><tspan x="75">0.265</tspan><tspan x="111">0.424</tspan><tspan x="146">–0.263</tspan></text>
<text y="128.3"><tspan class="i" x="14.5">lab*tch</tspan><tspan x="75">0.25</tspan><tspan x="111">0.5</tspan><tspan x="146">0.911</tspan></text>
<text y="138.3"><tspan class="i" x="14.5">lab*nch</tspan><tspan x="75">0.5</tspan><tspan x="111">0.5</tspan><tspan x="146">0.911</tspan></text>
<text class="b" x="14.5" y="148.7"><tspan class="i">relative</tspan> Natural Colour (NC)</text>
<text y="158.5"><tspan class="i" x="14.5">lab*lrj</tspan><tspan x="75">0.265</tspan><tspan x="111">0.351</tspan><tspan x="146">–0.355</tspan></text>
<text y="167.3"><tspan class="i" x="14.5">lab*tce</tspan><tspan x="75">0.25</tspan><tspan x="111">0.5</tspan><tspan x="146">0.874</tspan></text>
<text y="175.7"><tspan class="i" x="14.5">lab*ncE</tspan><tspan x="75">0.5</tspan><tspan x="111">0.5</tspan><tspan x="146">b49r</tspan></text>
</g>

<!-- column c*=0.75 -->
<g id="c75-n0" class="bx" transform="translate(576,320)">
<rect width="189" height="189" fill="#ff40ff"/>
<rect class="in" x="10" y="9" width="171" height="171"/>
<text class="b" x="14.5" y="16.6"><tspan class="i">relative</tspan> Inform. Technology (IT)</text>
<text y="26.5"><tspan class="i" x="14.5">olvi3*</tspan><tspan x="58.5">1.0</tspan><tspan x="90.5">0.25</tspan><tspan x="123">1.0</tspan><tspan x="155">(1.0)</tspan></text>
<text y="36.5"><tspan class="i" x="14.5">cmyn3*</tspan><tspan x="58.5">0.0</tspan><tspan x="90.5">0.75</tspan><tspan x="123">0.0</tspan><tspan x="155">(0.0)</tspan></text>
<text y="46.5"><tspan class="i" x="14.5">olvi4*</tspan><tspan x="58.5">1.0</tspan><tspan x="90.5">0.25</tspan><tspan x="123">1.0</tspan><tspan x="155">1.0</tspan></text>
<text y="56.5"><tspan class="i" x="14.5">cmyn4*</tspan><tspan x="58.5">0.0</tspan><tspan x="90.5">0.75</tspan><tspan x="123">0.0</tspan><tspan x="155">0.0</tspan></text>
<text class="b" x="14.5" y="67"><tspan class="i">standard</tspan> and <tspan class="i">adapted</tspan> CIELAB</text>
<text y="77.5"><tspan class="i" x="14.5">LAB*LAB</tspan><tspan x="75">68.11</tspan><tspan x="111">66.99</tspan><tspan x="146">–41.74</tspan></text>
<text y="87.5"><tspan class="i" x="14.5">LAB*LABa</tspan><tspan x="75">68.11</tspan><tspan x="111">66.99</tspan><tspan x="146">–41.74</tspan></text>
<text y="97.5"><tspan class="i" x="14.5">LAB*TCHa</tspan><tspan x="75">62.5</tspan><tspan x="111">78.94</tspan><tspan x="146">328.06</tspan></text>
<text class="b" x="14.5" y="108"><tspan class="i">relative</tspan> CIELAB <tspan class="i">lab*</tspan></text>
<text y="118.3"><tspan class="i" x="14.5">lab*lab</tspan><tspan x="75">0.647</tspan><tspan x="111">0.636</tspan><tspan x="146">–0.396</tspan></text>
<text y="128.3"><tspan class="i" x="14.5">lab*tch</tspan><tspan x="75">0.625</tspan><tspan x="111">0.75</tspan><tspan x="146">0.911</tspan></text>
<text y="138.3"><tspan class="i" x="14.5">lab*nch</tspan><tspan x="75">0.0</tspan><tspan x="111">0.75</tspan><tspan x="146">0.911</tspan></text>
<text class="b" x="14.5" y="148.7"><tspan class="i">relative</tspan> Natural Colour (NC)</text>
<text y="158.5"><tspan class="i" x="14.5">lab*lrj</tspan><tspan x="75">0.647</tspan><tspan x="111">0.526</tspan><tspan x="146">–0.533</tspan></text>
<text y="167.3"><tspan class="i" x="14.5">lab*tce</tspan><tspan x="75">0.625</tspan><tspan x="111">0.75</tspan><tspan x="146">0.874</tspan></text>
<text y="175.7"><tspan class="i" x="14.5">lab*ncE</tspan><tspan x="75">0.0</tspan><tspan x="111">0.75</tspan><tspan x="146">b49r</tspan></text>
</g>

<g id="c75-n25" class="bx" transform="translate(576,509)">
<rect width="189" height="189" fill="#bf00bf"/>
<rect class="in" x="10" y="9" width="171" height="171"/>
<text class="b" x="14.5" y="16.6"><tspan class="i">relative</tspan> Inform. Technology (IT)</text>
<text y="26.5"><tspan class="i" x="14.5">olvi3*</tspan><tspan x="58.5">0.75</tspan><tspan x="90.5">0.0</tspan><tspan x="123">0.75</tspan><tspan x="155">(1.0)</tspan></text>
<text y="36.5"><tspan class="i" x="14.5">cmyn3*</tspan><tspan x="58.5">0.25</tspan><tspan x="90.5">1.0</tspan><tspan x="123">0.25</tspan><tspan x="155">(0.0)</tspan></text>
<text y="46.5"><tspan class="i" x="14.5">olvi4*</tspan><tspan x="58.5">1.0</tspan><tspan x="90.5">0.25</tspan><tspan x="123">1.0</tspan><tspan x="155">0.75</tspan></text>
<text y="56.5"><tspan class="i" x="14.5">cmyn4*</tspan><tspan x="58.5">0.0</tspan><tspan x="90.5">0.75</tspan><tspan x="123">0.0</tspan><tspan x="155">0.25</tspan></text>
<text class="b" x="14.5" y="67"><tspan class="i">standard</tspan> and <tspan class="i">adapted</tspan> CIELAB</text>
<text y="77.5"><tspan class="i" x="14.5">LAB*LAB</tspan><tspan x="75">48.76</tspan><tspan x="111">66.99</tspan><tspan x="146">–41.74</tspan></text>
<text y="87.5"><tspan class="i" x="14.5">LAB*LABa</tspan><tspan x="75">48.76</tspan><tspan x="111">66.99</tspan><tspan x="146">–41.74</tspan></text>
<text y="97.5"><tspan class="i" x="14.5">LAB*TCHa</tspan><tspan x="75">37.51</tspan><tspan x="111">78.94</tspan><tspan x="146">328.06</tspan></text>
<text class="b" x="14.5" y="108"><tspan class="i">relative</tspan> CIELAB <tspan class="i">lab*</tspan></text>
<text y="118.3"><tspan class="i" x="14.5">lab*lab</tspan><tspan x="75">0.397</tspan><tspan x="111">0.636</tspan><tspan x="146">–0.396</tspan></text>
<text y="128.3"><tspan class="i" x="14.5">lab*tch</tspan><tspan x="75">0.375</tspan><tspan x="111">0.75</tspan><tspan x="146">0.911</tspan></text>
<text y="138.3"><tspan class="i" x="14.5">lab*nch</tspan><tspan x="75">0.25</tspan><tspan x="111">0.75</tspan><tspan x="146">0.911</tspan></text>
<text class="b" x="14.5" y="148.7"><tspan class="i">relative</tspan> Natural Colour (NC)</text>
<text y="158.5"><tspan class="i" x="14.5">lab*lrj</tspan><tspan x="75">0.397</tspan><tspan x="111">0.526</tspan><tspan x="146">–0.533</tspan></text>
<text y="167.3"><tspan class="i" x="14.5">lab*tce</tspan><tspan x="75">0.375</tspan><tspan x="111">0.75</tspan><tspan x="146">0.874</tspan></text>
<text y="175.7"><tspan class="i" x="14.5">lab*ncE</tspan><tspan x="75">0.25</tspan><tspan x="111">0.75</tspan><tspan x="146">b49r</tspan></text>
</g>

<!-- column c*=1 -->
<g id="c100-n0" class="bx" transform="translate(765,415)">
<rect width="187" height="189" fill="#ff00ff"/>
<rect class="in" x="10" y="9" width="171" height="171"/>
<text class="b" x="14.5" y="16.6"><tspan class="i">relative</tspan> Inform. Technology (IT)</text>
<text y="26.5"><tspan class="i" x="14.5">olvi3*</tspan><tspan x="58.5">1.0</tspan><tspan x="90.5">0.0</tspan><tspan x="123">1.0</tspan><tspan x="155">(1.0)</tspan></text>
<text y="36.5"><tspan class="i" x="14.5">cmyn3*</tspan><tspan x="58.5">0.0</tspan><tspan x="90.5">1.0</tspan><tspan x="123">0.0</tspan><tspan x="155">(0.0)</tspan></text>
<text y="46.5"><tspan class="i" x="14.5">olvi4*</tspan><tspan x="58.5">1.0</tspan><tspan x="90.5">0.0</tspan><tspan x="123">1.0</tspan><tspan x="155">1.0</tspan></text>
<text y="56.5"><tspan class="i" x="14.5">cmyn4*</tspan><tspan x="58.5">0.0</tspan><tspan x="90.5">1.0</tspan><tspan x="123">0.0</tspan><tspan x="155">0.0</tspan></text>
<text class="b" x="14.5" y="67"><tspan class="i">standard</tspan> and <tspan class="i">adapted</tspan> CIELAB</text>
<text y="77.5"><tspan class="i" x="14.5">LAB*LAB</tspan><tspan x="75">59.01</tspan><tspan x="111">89.31</tspan><tspan x="146">–55.66</tspan></text>
<text y="87.5"><tspan class="i" x="14.5">LAB*LABa</tspan><tspan x="75">59.01</tspan><tspan x="111">89.31</tspan><tspan x="146">–55.66</tspan></text>
<text y="97.5"><tspan class="i" x="14.5">LAB*TCHa</tspan><tspan x="75">50.0</tspan><tspan x="111">105.24</tspan><tspan x="146">328.06</tspan></text>
<text class="b" x="14.5" y="108"><tspan class="i">relative</tspan> CIELAB <tspan class="i">lab*</tspan></text>
<text y="118.3"><tspan class="i" x="14.5">lab*lab</tspan><tspan x="75">0.53</tspan><tspan x="111">0.848</tspan><tspan x="146">–0.528</tspan></text>
<text y="128.3"><tspan class="i" x="14.5">lab*tch</tspan><tspan x="75">0.5</tspan><tspan x="111">1.0</tspan><tspan x="146">0.911</tspan></text>
<text y="138.3"><tspan class="i" x="14.5">lab*nch</tspan><tspan x="75">0.0</tspan><tspan x="111">1.0</tspan><tspan x="146">0.911</tspan></text>
<text class="b" x="14.5" y="148.7"><tspan class="i">relative</tspan> Natural Colour (NC)</text>
<text y="158.5"><tspan class="i" x="14.5">lab*lrj</tspan><tspan x="75">0.53</tspan><tspan x="111">0.702</tspan><tspan x="146">–0.711</tspan></text>
<text y="167.3"><tspan class="i" x="14.5">lab*tce</tspan><tspan x="75">0.5</tspan><tspan x="111">1.0</tspan><tspan x="146">0.874</tspan></text>
<text y="175.7"><tspan class="i" x="14.5">lab*ncE</tspan><tspan x="75">0.0</tspan><tspan x="111">1.0</tspan><tspan x="146">b49r</tspan></text>
</g>

<g id="connectors">
<line class="ax" x1="103" y1="20" x2="103" y2="37"/>
<polygon points="92,22 114,22 103,-6" fill="#fff"/>
<line class="ax" x1="198" y1="888" x2="905" y2="888"/>
<line class="ax" x1="0" y1="888" x2="8" y2="888"/>
<polygon points="900,876 900,899 936,887.5" fill="#fff"/>
<line class="tk" x1="291" y1="888" x2="291" y2="902"/>
<line class="tk" x1="481" y1="871" x2="481" y2="902"/>
<line class="tk" x1="670" y1="871" x2="670" y2="902"/>
<line class="tk" x1="859" y1="871" x2="859" y2="902"/>
<line class="ax" x1="821" y1="709" x2="770" y2="734"/>
<polygon points="745.7,746 771.7,719.3 779.3,741.7" fill="#fff"/>
</g>

<g id="labels">
<text class="lbl" x="294" y="933" font-size="21" text-anchor="middle">0,25</text>
<text class="lbl" x="485" y="933" font-size="21" text-anchor="middle">0,50</text>
<text class="lbl" x="675" y="933" font-size="21" text-anchor="middle">0,75</text>
<text class="lbl" x="863" y="933" font-size="21" text-anchor="middle">1,00</text>
<text class="lbl b" x="707" y="977" font-size="26">chromaticness <tspan class="i">c*</tspan></text>
<text class="lbl b" x="747" y="775" font-size="26">blackness <tspan class="i">n*</tspan></text>
<text class="lbl" x="813" y="629" font-size="22.5"><tspan class="i">n*</tspan> = 0,00</text>
<text class="lbl" x="623" y="724" font-size="22.5"><tspan class="i">n*</tspan> = 0,25</text>
<text class="lbl" x="434" y="818" font-size="22.5"><tspan class="i">n*</tspan> = 0,50</text>
<text class="lbl" x="28" y="1004" font-size="27"><tspan class="i">n*</tspan> = 1.0</text>
</g>
</svg>
